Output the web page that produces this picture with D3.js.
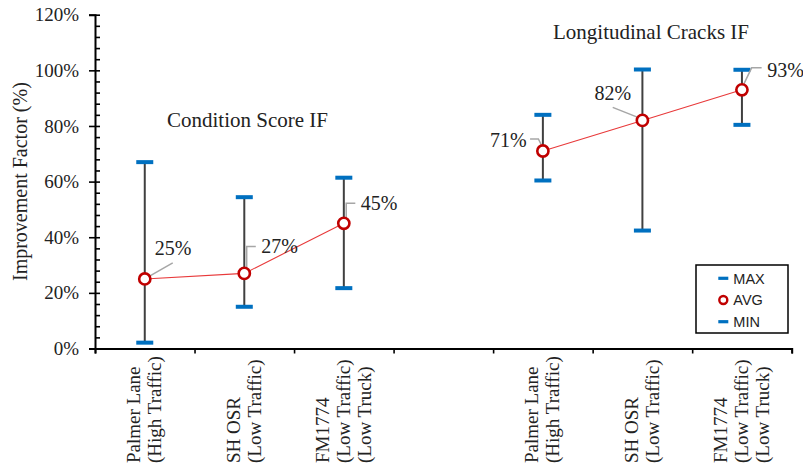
<!DOCTYPE html>
<html>
<head>
<meta charset="utf-8">
<script src="https://cdn.jsdelivr.net/npm/d3@7"></script>
<style>
  html, body { margin: 0; padding: 0; background: #fff; }
  svg { display: block; }
</style>
</head>
<body>
<svg id="chart" width="803" height="470"></svg>
<script>
// Site labels (one entry per line of the rotated axis label)
const siteLabels = [
  ["Palmer Lane", "(High Traffic)"],
  ["SH OSR", "(Low Traffic)"],
  ["FM1774", "(Low Traffic)", "(Low Truck)"]
];
const groupTitles = ["Condition Score IF", "Longitudinal Cracks IF"];

// Improvement factor (%) per site: Condition Score IF
const csMax = [67, 54.4, 61.4];
const csAvg = [25, 27, 45];
const csMin = [2.1, 15, 21.7];

// Improvement factor (%) per site: Longitudinal Cracks IF
const lcMax = [84, 100.3, 100.2];
const lcAvg = [71, 82, 93];
const lcMin = [60.4, 42.4, 80.4];

const yTicks = [0, 20, 40, 60, 80, 100, 120];
const legendItems = ["MAX", "AVG", "MIN"];

// ---------------------------------------------------------------
const SERIF = '"Liberation Serif", "Times New Roman", serif';
const SANS = '"Liberation Sans", Arial, sans-serif';
const TXT = "#222";

const svg = d3.select("#chart");
const W = 803, H = 470;
svg.append("rect").attr("width", W).attr("height", H).attr("fill", "#fff");

const plot = { left: 95, right: 791.7, top: 14.7, bottom: 348.5 };

const slotKeys = ["cs0", "cs1", "cs2", "gap", "lc0", "lc1", "lc2"];
const x = d3.scaleBand().domain(slotKeys).range([plot.left, plot.right]).padding(0);
const xEdge = d3.scaleLinear().domain([0, slotKeys.length]).range([plot.left, plot.right]);
const y = d3.scaleLinear().domain([0, 120]).range([plot.bottom, plot.top]);
const cx = k => x(k) + x.bandwidth() / 2;

const groups = [
  { title: groupTitles[0], keys: ["cs0", "cs1", "cs2"], max: csMax, avg: csAvg, min: csMin },
  { title: groupTitles[1], keys: ["lc0", "lc1", "lc2"], max: lcMax, avg: lcAvg, min: lcMin }
];

// ---- axes ----
const yAxisMajor = d3.axisLeft(y).tickValues(yTicks).tickSize(6).tickPadding(10)
  .tickFormat(d => d + "%");
const gy = svg.append("g").attr("transform", `translate(${plot.left},0)`).call(yAxisMajor)
  .attr("font-family", null).attr("font-size", null);
gy.select(".domain").attr("stroke", "#000").attr("stroke-width", 2);
gy.selectAll(".tick line").attr("stroke", "#000").attr("stroke-width", 1.6);
gy.selectAll(".tick text")
  .style("font-family", SERIF).style("font-size", "19px").attr("fill", TXT);

const minorTicks = d3.range(0, 121, 4);
const gyMinor = svg.append("g").attr("transform", `translate(${plot.left},0)`)
  .call(d3.axisRight(y).tickValues(minorTicks).tickSize(5).tickFormat(""));
gyMinor.select(".domain").remove();
gyMinor.selectAll(".tick line").attr("stroke", "#000").attr("stroke-width", 1.6);

const gx = svg.append("g").attr("transform", `translate(0,${plot.bottom})`)
  .call(d3.axisBottom(xEdge).tickValues(d3.range(slotKeys.length + 1)).tickSize(5).tickFormat(""));
gx.select(".domain").attr("stroke", "#000").attr("stroke-width", 2);
gx.selectAll(".tick line").attr("stroke", "#000").attr("stroke-width", 1.6);

// ---- y axis title ----
svg.append("text")
  .attr("transform", `translate(27,${(plot.top + plot.bottom) / 2}) rotate(-90)`)
  .attr("text-anchor", "middle")
  .style("font-family", SERIF).style("font-size", "20px").attr("fill", TXT)
  .text("Improvement Factor (%)");

// ---- category labels (rotated) ----
const lineH = 21;
groups.forEach(g => {
  g.keys.forEach((k, i) => {
    const lines = siteLabels[i];
    const t = svg.append("text")
      .attr("transform", `translate(${cx(k)},463) rotate(-90)`)
      .style("font-family", SERIF).style("font-size", "19px").attr("fill", TXT)
      .attr("text-anchor", "start");
    lines.forEach((ln, j) => {
      t.append("tspan").attr("x", 0)
        .attr("y", (j - (lines.length - 1) / 2) * lineH + 6)
        .text(ln);
    });
  });
});

// ---- group titles ----
const titlePos = [{ x: 247.5, y: 127 }, { x: 651, y: 39 }];
groups.forEach((g, gi) => {
  svg.append("text").attr("text-anchor", "middle")
    .attr("x", titlePos[gi].x).attr("y", titlePos[gi].y)
    .style("font-family", SERIF).style("font-size", "21px").attr("fill", TXT)
    .text(g.title);
});

// ---- error bars, average line, markers ----
const redLine = d3.line().x(d => d.x).y(d => d.y);
groups.forEach(g => {
  const pts = g.keys.map((k, i) => ({ k, x: cx(k), max: g.max[i], avg: g.avg[i], min: g.min[i] }));

  svg.append("g").selectAll("line").data(pts).join("line")
    .attr("x1", d => d.x).attr("x2", d => d.x)
    .attr("y1", d => y(d.max)).attr("y2", d => y(d.min))
    .attr("stroke", "#404040").attr("stroke-width", 2);

  ["max", "min"].forEach(field => {
    svg.append("g").selectAll("rect").data(pts).join("rect")
      .attr("x", d => d.x - 8.5).attr("width", 17)
      .attr("y", d => y(d[field]) - 2).attr("height", 4)
      .attr("fill", "#0070C0");
  });

  svg.append("path")
    .attr("d", redLine(pts.map(d => ({ x: d.x, y: y(d.avg) }))))
    .attr("fill", "none").attr("stroke", "#E8393A").attr("stroke-width", 1.1);

  g.pts = pts;
});

// ---- data labels with leader lines (offsets relative to the marker) ----
const labelLayout = [
  { tx: 10, ty: -24, leader: [[28, -16], [0, 0]] },
  { tx: 17, ty: -20.5, leader: [[11.5, -27], [2.4, -27], [2.4, -6]] },
  { tx: 17, ty: -13, leader: [[11.5, -20], [2.4, -20], [2.4, -6]] },
  { tx: -53, ty: -4.5, leader: [[-12.8, -12], [-4.5, -12], [-1, -5]] },
  { tx: -48, ty: -20.5, leader: [[-29.7, -13], [-4.5, -3]] },
  { tx: 25.3, ty: -13, leader: [[19.7, -22], [9.7, -22], [2, -6]] }
];
const allPts = groups[0].pts.concat(groups[1].pts);
allPts.forEach((p, i) => {
  const L = labelLayout[i];
  const py = y(p.avg);
  svg.append("path")
    .attr("d", d3.line()(L.leader.map(([dx, dy]) => [p.x + dx, py + dy])))
    .attr("fill", "none").attr("stroke", "#A6A6A6").attr("stroke-width", 1.5);
});
allPts.forEach(p => {
  svg.append("circle").attr("cx", p.x).attr("cy", y(p.avg)).attr("r", 5.6)
    .attr("fill", "#fff").attr("stroke", "#C00000").attr("stroke-width", 2.6);
});
allPts.forEach((p, i) => {
  const L = labelLayout[i];
  svg.append("text")
    .attr("x", p.x + L.tx).attr("y", y(p.avg) + L.ty)
    .style("font-family", SERIF).style("font-size", "20px").attr("fill", TXT)
    .text(p.avg + "%");
});

// ---- legend ----
const lg = svg.append("g").attr("transform", "translate(696,265)");
lg.append("rect").attr("width", 92).attr("height", 68)
  .attr("fill", "#fff").attr("stroke", "#000").attr("stroke-width", 1.5);
legendItems.forEach((name, i) => {
  const ry = 13.3 + i * 21.7;
  if (name === "AVG") {
    lg.append("circle").attr("cx", 27.3).attr("cy", ry).attr("r", 4)
      .attr("fill", "#fff").attr("stroke", "#C00000").attr("stroke-width", 2.4);
  } else {
    lg.append("rect").attr("x", 22.3).attr("y", ry - 1.6).attr("width", 10).attr("height", 3.2)
      .attr("fill", "#0070C0");
  }
  lg.append("text").attr("x", 37.3).attr("y", ry).attr("dy", "0.36em")
    .style("font-family", SANS).style("font-size", "14.5px").attr("fill", TXT)
    .text(name);
});
</script>
</body>
</html>
